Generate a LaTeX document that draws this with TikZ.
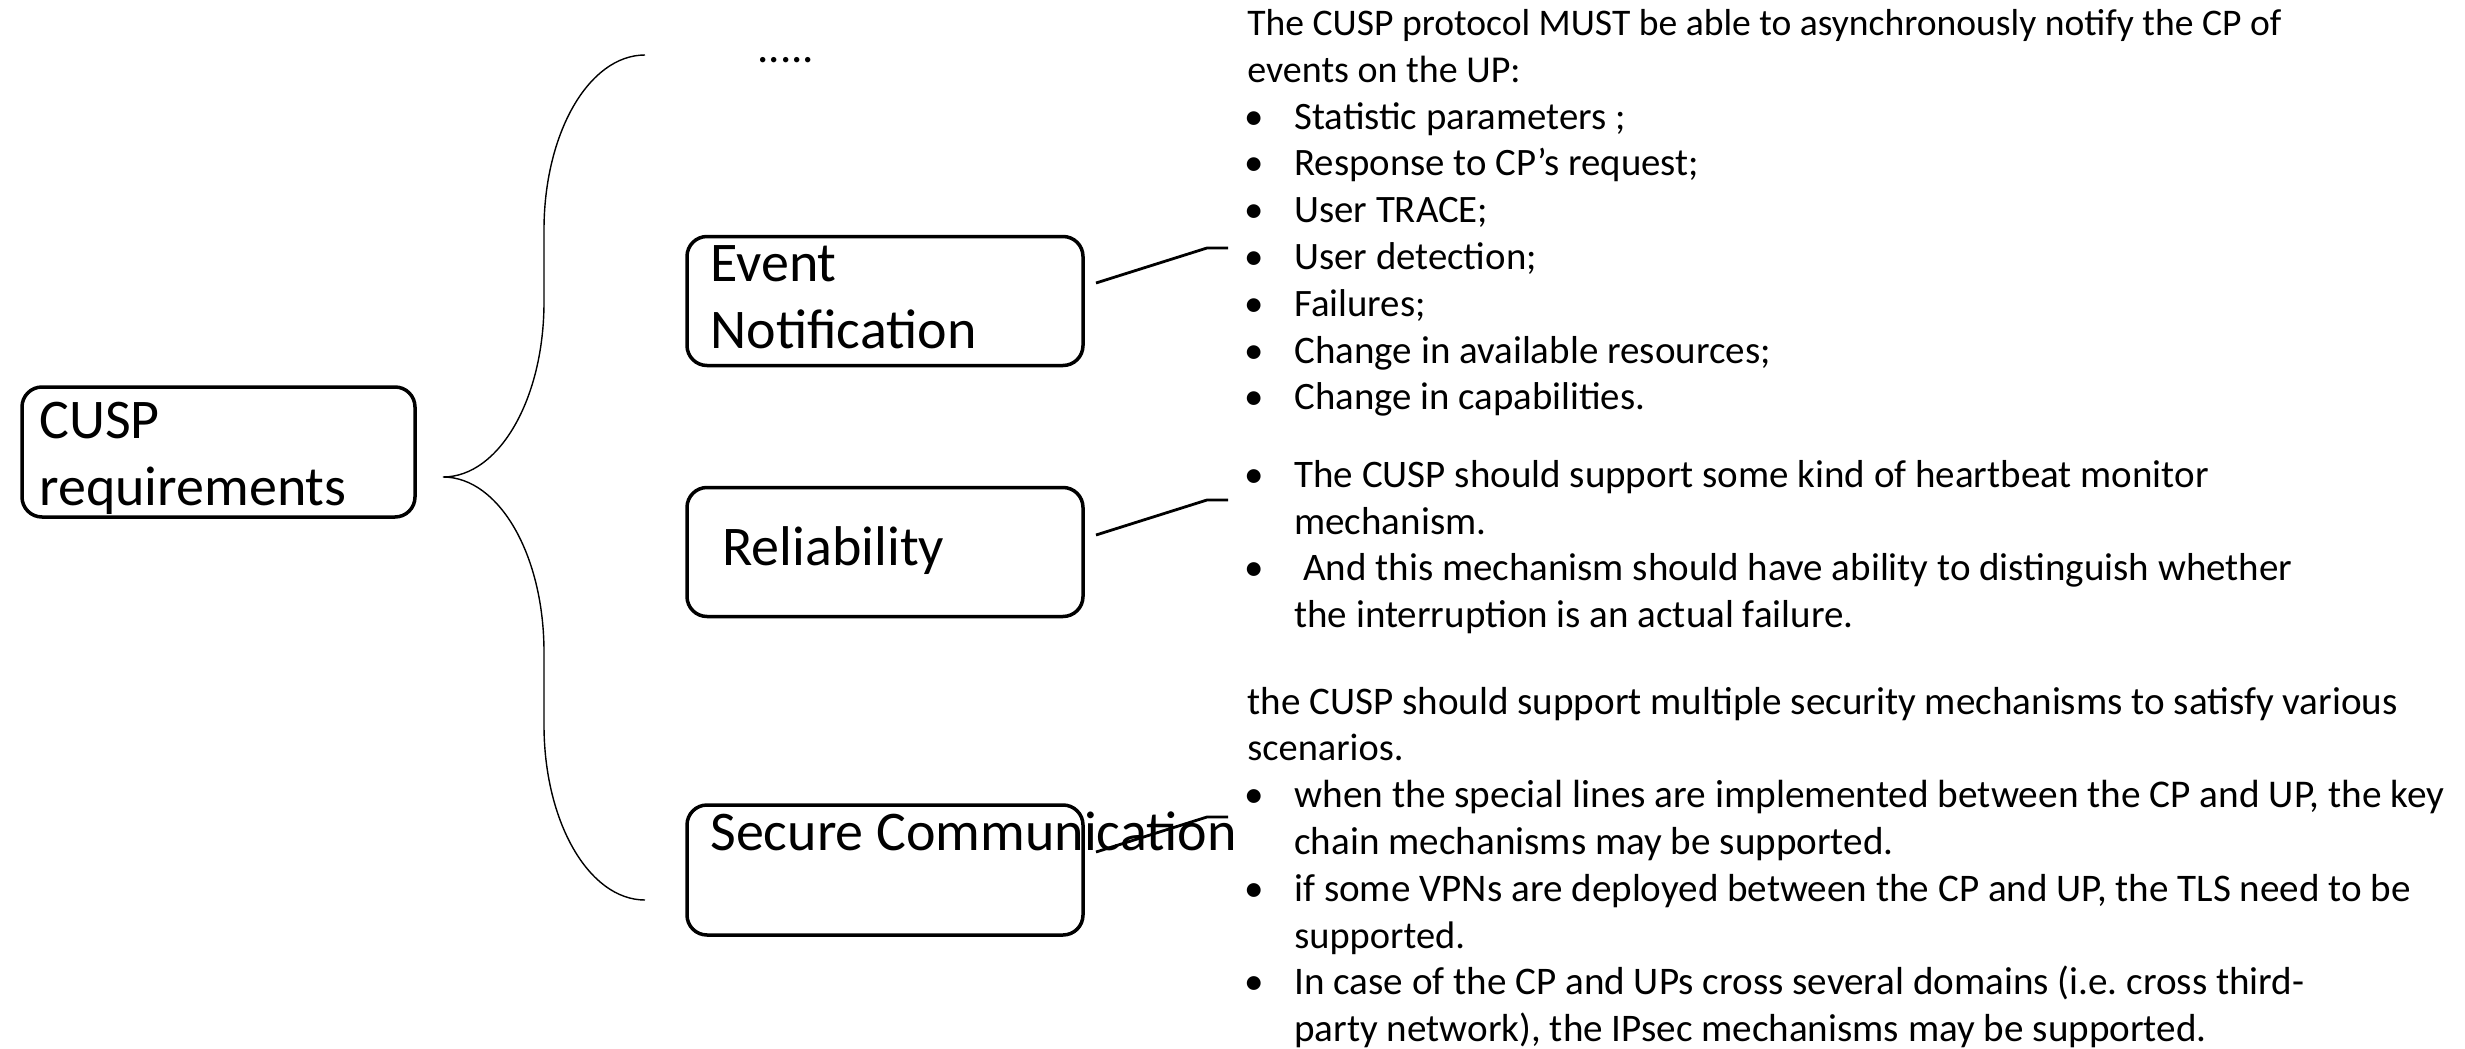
\documentclass[tikz,border=0pt]{standalone}
\usepackage{fontspec}
\setmainfont{Carlito}
\newcommand{\bul}{\makebox[23.5pt][l]{\hspace{-1.5pt}•}}
\newcommand{\ind}{\hspace*{23.5pt}}
\newcommand{\fs}[1]{\fontsize{#1}{23.4pt}\selectfont}
\tikzset{
  box/.style={draw, line width=1.75pt, rounded corners=10pt, minimum width=198pt, minimum height=64.5pt, inner sep=0pt},
  big/.style={font=\fontsize{28pt}{33.5pt}\selectfont},
  small/.style={font=\fontsize{19.4pt}{23.4pt}\selectfont},
  block/.style={anchor=north west, inner sep=0pt, align=left},
  lbl/.style={anchor=base west, inner sep=0pt},
  conn/.style={line width=1.4pt},
  bracestyle/.style={line width=0.7pt},
}
\begin{document}
\frenchspacing
\begin{tikzpicture}[x=0.5pt,y=-0.5pt]
\useasboundingbox (0,0) rectangle (2465,1049);

% boxes
\node[box, minimum width=196.5pt, minimum height=65pt] (cusp) at (218.5,452) {};
\node[box] (ev) at (885,301) {};
\node[box] (rel) at (885,552) {};
\node[box, minimum height=65pt] (sec) at (885,870) {};

% box texts
\node[block, big] (cusptxt) at (39,391.1) {\strut CUSP\\requirements};
\node[block, big] (evtxt) at (710,234.1) {\strut Event\\Notification};
\node[lbl, big] (reltxt) at (722,565) {Reliability};
\node[lbl, big] (sectxt) at (710,850) {Secure Communication};
\node[lbl, font=\fontsize{22.5pt}{27pt}\selectfont] (dots) at (757,62) {.....};

% brace
\draw[bracestyle] (645,55) .. controls (589,55) and (544,133) .. (544,230)
  -- (544,302) .. controls (544,399) and (499,477) .. (443,477)
  .. controls (499,477) and (544,555) .. (544,652)
  -- (544,725) .. controls (544,822) and (589,900) .. (645,900);

% connectors
\coordinate (a1) at (1096,283); \coordinate (a2) at (1207,248); \coordinate (a3) at (1228,248);
\coordinate (b1) at (1096,535); \coordinate (b2) at (1207,500); \coordinate (b3) at (1228,500);
\coordinate (c1) at (1096,852); \coordinate (c2) at (1207,817); \coordinate (c3) at (1228,817);
\draw[conn] (a1) -- (a2) -- (a3);
\draw[conn] (b1) -- (b2) -- (b3);
\draw[conn] (c1) -- (c2) -- (c3);

% text blocks
\node[block, small] (t1) at (1247,2.24) {\strut{\fs{18.8pt}The CUSP protocol MUST be able to asynchronously notify the CP of}\\
{\fs{19pt}events on the UP:}\\
\bul Statistic parameters ;\\
\bul Response to CP’s request;\\
\bul User TRACE;\\
\bul User detection;\\
\bul Failures;\\
\bul {\fs{19.5pt}Change in available resources;}\\
\bul Change in capabilities.};

\node[block, small, font=\fontsize{19.5pt}{23.4pt}\selectfont] (t2) at (1247,454.2) {\strut\bul The CUSP should support some kind of heartbeat monitor\\
\ind mechanism.\\
\bul\ And this mechanism should have ability to distinguish whether\\
\ind the interruption is an actual failure.};

\node[block, small, font=\fontsize{19.55pt}{23.4pt}\selectfont] (t3) at (1247,681) {\strut the CUSP should support multiple security mechanisms to satisfy various\\
{\fs{19.2pt}scenarios.}\\
\bul {\fs{19.65pt}when the special lines are implemented between the CP and UP, the key}\\
\ind chain mechanisms may be supported.\\
\bul if some VPNs are deployed between the CP and UP, the TLS need to be\\
\ind {\fs{19.2pt}supported.}\\
\bul In case of the CP and UPs cross several domains (i.e. cross third-\\
\ind party network), the IPsec mechanisms may be supported.};
\end{tikzpicture}
\end{document}
